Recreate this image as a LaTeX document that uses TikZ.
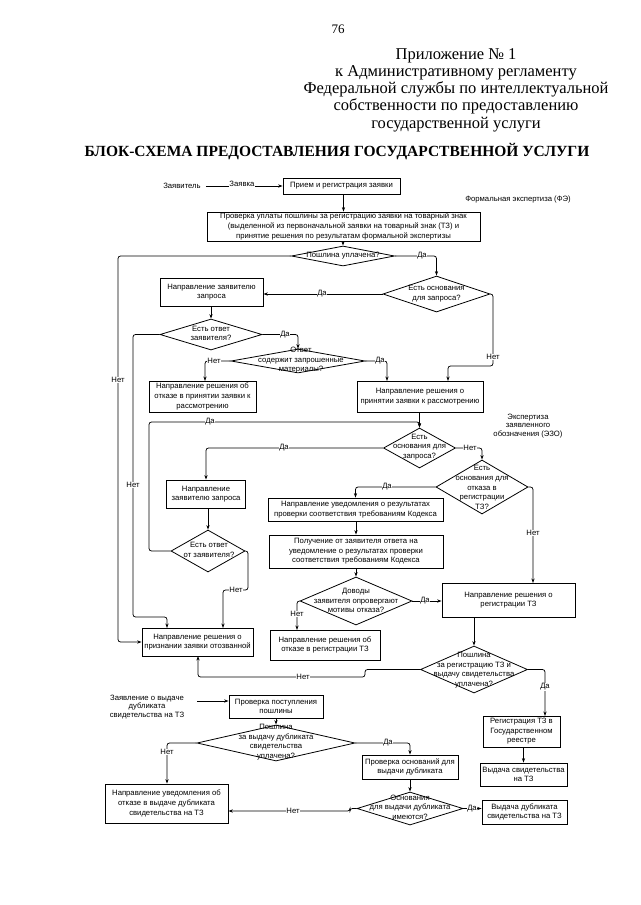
\documentclass[tikz,border=0pt]{standalone}
\usepackage{fontspec}
\setmainfont{Liberation Serif}
\newfontfamily\arialf{Liberation Sans}
\usetikzlibrary{arrows.meta,shapes.geometric}
\newcommand{\fcf}{\arialf\fontsize{7.7}{9.6}\selectfont}
\newcommand{\fcs}{\arialf\fontsize{7.7}{8.8}\selectfont}
\begin{document}
\begin{tikzpicture}[x=1pt,y=-1pt,
  box/.style={draw, line width=0.8pt, inner sep=0pt, align=center, font=\fcf},
  dia/.style={draw, diamond, inner sep=0pt, line width=0.8pt},
  dtext/.style={align=center, font=\fcf, inner sep=0pt},
  ft/.style={align=center, font=\fcf, inner sep=0pt},
  con/.style={line width=0.75pt, rounded corners=2.5pt, -{Stealth[length=4.5pt,width=3.2pt]}},
  lab/.style={fill=white, inner sep=0.6pt, font=\fcf}]
\useasboundingbox (0,0) rectangle (640,905);
\fill[white] (0,0) rectangle (640,905);

% header
\node[font=\fontsize{13}{15}\selectfont, inner sep=0pt] (pg) at (338,29) {76};
\node[align=center, font=\fontsize{16.5}{17.2}\selectfont, inner sep=0pt] (hdr) at (456,90)
 {Приложение № 1\\к Административному регламенту\\Федеральной службы по интеллектуальной\\собственности по предоставлению\\государственной услуги};
\node[font=\bfseries\fontsize{15.5}{18}\selectfont, inner sep=0pt] (ttl) at (337,152)
 {БЛОК-СХЕМА ПРЕДОСТАВЛЕНИЯ ГОСУДАРСТВЕННОЙ УСЛУГИ};

% free texts
\node[ft] (zv) at (182,186) {Заявитель};
\node[ft] (fe) at (518,200) {Формальная экспертиза (ФЭ)};
\node[ft, font=\fcs] (ezo) at (528,426) {Экспертиза\\заявленного\\обозначения (ЭЗО)};
\node[ft, font=\fcs] (zd) at (147,707) {Заявление о выдаче\\дубликата\\свидетельства на ТЗ};
\coordinate (za) at (197,701);

% boxes
\node[box, minimum width=117, minimum height=16] (b1) at (341.5,186) {Прием  и регистрация заявки};
\node[box, minimum width=273, minimum height=29] (b2) at (343.5,226.5) {Проверка уплаты пошлины за регистрацию заявки на товарный знак\\(выделенной из первоначальной заявки на товарный знак (ТЗ) и\\принятие решения по результатам формальной экспертизы};
\node[box, minimum width=103, minimum height=28] (b3) at (211.5,292) {Направление заявителю\\запроса};
\node[box, minimum width=107, minimum height=31] (b4) at (202.5,396.5) {Направление решения об\\отказе в принятии заявки к\\рассмотрению};
\node[box, minimum width=126, minimum height=31] (b5) at (420,396.5) {Направление решения о\\принятии заявки к рассмотрению};
\node[box, minimum width=79, minimum height=28] (b6) at (206,494) {Направление\\заявителю запроса};
\node[box, minimum width=175, minimum height=23] (b7) at (355.5,509.5) {Направление уведомления о результатах\\проверки соответствия требованиям Кодекса};
\node[box, minimum width=174, minimum height=33] (b8) at (356,551.5) {Получение от заявителя  ответа на\\уведомление о результатах проверки\\соответствия требованиям Кодекса};
\node[box, minimum width=110, minimum height=30] (b9) at (325,645) {Направление решения об\\отказе в регистрации ТЗ};
\node[box, minimum width=133, minimum height=34] (b10) at (508.5,600) {Направление решения о\\регистрации ТЗ};
\node[box, minimum width=111, minimum height=28] (b11) at (197.5,642) {Направление решения о\\признании заявки отозванной};
\node[box, minimum width=77, minimum height=31] (b12) at (521.5,731.5) {Регистрация ТЗ в\\Государственном\\реестре};
\node[box, minimum width=87, minimum height=23] (b13) at (523.5,774.5) {Выдача свидетельства\\на ТЗ};
\node[box, minimum width=94, minimum height=23] (b14) at (276,706.5) {Проверка поступления\\пошлины};
\node[box, minimum width=96, minimum height=24] (b15) at (410,767) {Проверка оснований для\\выдачи дубликата};
\node[box, minimum width=85, minimum height=24] (b16) at (524.5,812) {Выдача дубликата\\свидетельства на ТЗ};
\node[box, minimum width=123, minimum height=39] (b17) at (166.5,803.5) {Направление уведомления об\\отказе в выдаче дубликата\\свидетельства на ТЗ};

% diamonds
\node[dia, minimum width=103, minimum height=20] (d1) at (343,256) {};
\node[dtext] (d1t) at (343,256) {Пошлина уплачена?};
\node[dia, minimum width=107, minimum height=36] (d2) at (436.5,294) {};
\node[dtext] (d2t) at (436.5,293.5) {Есть основания\\для запроса?};
\node[dia, minimum width=102, minimum height=31] (d3) at (211,334.5) {};
\node[dtext] (d3t) at (211,333.5) {Есть ответ\\заявителя?};
\node[dia, minimum width=134, minimum height=24] (d4) at (298,361) {};
\node[dtext] (d4t) at (301,360.5) {Ответ\\содержит  запрошенные\\материалы?};
\node[dia, minimum width=72, minimum height=40] (d5) at (419.5,448) {};
\node[dtext] (d5t) at (419.5,447) {Есть\\основания для\\запроса?};
\node[dia, minimum width=92, minimum height=54] (d6) at (482,487) {};
\node[dtext] (d6t) at (482,487.5) {Есть\\основания для\\отказа в\\регистрации\\ТЗ?};
\node[dia, minimum width=74, minimum height=42] (d7) at (208,551) {};
\node[dtext] (d7t) at (209,550) {Есть ответ\\от заявителя?};
\node[dia, minimum width=112, minimum height=48] (d8) at (356,601) {};
\node[dtext] (d8t) at (356,600.5) {Доводы\\заявителя опровергают\\мотивы отказа?};
\node[dia, minimum width=107, minimum height=47] (d9) at (474,669.5) {};
\node[dtext] (d9t) at (474,670) {Пошлина\\за регистрацию ТЗ и\\выдачу свидетельства\\уплачена?};
\node[dia, minimum width=158, minimum height=36] (d10) at (276,743) {};
\node[dtext] (d10t) at (276,742) {Пошлина\\за выдачу дубликата\\свидетельства\\уплачена?};
\node[dia, minimum width=106, minimum height=33] (d11) at (410,808.5) {};
\node[dtext] (d11t) at (410,807) {Основания\\для выдачи дубликата\\имеются?};

% connectors
\draw[con, shorten <=5pt] (zv.east) -- (zv.east -| b1.west);
\draw[con] (b1.south -| b2.north) -- (b2.north);
\draw[con] (b2.south -| d1.north) -- (d1.north);
\draw[con] (d1.east) -| (d2.north);
\draw[con] (d1.west) -- (118,256) -- (118,642) -- (b11.west);
\draw[con] (d2.west) -- (d2.west -| b3.east);
\draw[con] (d2.east) -- (493,294) -- (493,366) -- (448,366) -- (448,381);
\draw[con] (b3.south -| d3.north) -- (d3.north);
\draw[con] (d3.east) -| (d4.north);
\draw[con] (d3.west) -- (133,334.5) -- (133,617) -- (167,617) -- (167,628);
\draw[con] (d4.west) -- (205,361) -- (205,381);
\draw[con] (d4.east) -- (387,361) -- (387,381);
\draw[con] (b5.south -| d5.north) -- (d5.north);
\draw[con] (d7.west) -- (149,551) -- (149,422) -- (419.5,422) -- (d5.north);
\draw[con] (d5.west) -| (b6.north);
\draw[con] (d5.east) -| (d6.north);
\draw[con] (d6.west) -| (b7.north);
\draw[con] (d6.east) -- (533,487) -- (533,583);
\draw[con] (b6.south -| d7.north) -- (d7.north);
\draw[con] (d7.east) -- (248,551) -- (248,590) -- (223,590) -- (223,628);
\draw[con] (b7.south -| b8.north) -- (b8.north);
\draw[con] (b8.south -| d8.north) -- (d8.north);
\draw[con] (d8.west) -- (297,601) -- (297,630);
\draw[con] (d8.east) -- (d8.east -| b10.west);
\draw[con] (b10.south -| d9.north) -- (d9.north);
\draw[con] (d9.west) -- (365,669.5) -- (365,677) -- (198,677) -- (198,656);
\draw[con] (d9.east) -- (545,669.5) -- (545,716);
\draw[con] (b12.south -| b13.north) -- (b13.north);
\draw[con] (za) -- (za -| b14.west);
\draw[con] (b14.south -| d10.north) -- (d10.north);
\draw[con] (d10.west) -| (b17.north -| 167,0);
\draw[con] (d10.east) -| (b15.north);
\draw[con] (b15.south -| d11.north) -- (d11.north);
\draw[con] (d11.west) -- (350,808.5) -- (350,811) -- (b17.east |- 0,811);
\draw[con] (d11.east) -- (d11.east -| b16.west);

% labels
\node[lab] (l0) at (242,184) {Заявка};
\node[lab] (l1) at (422,256) {Да};
\node[lab] (l2) at (118,380) {Нет};
\node[lab] (l3) at (322,294) {Да};
\node[lab] (l4) at (493,357) {Нет};
\node[lab] (l5) at (285,334.5) {Да};
\node[lab] (l6) at (133,485) {Нет};
\node[lab] (l7) at (214,361) {Нет};
\node[lab] (l8) at (380,361) {Да};
\node[lab] (l9) at (210,422) {Да};
\node[lab] (l10) at (284,448) {Да};
\node[lab] (l11) at (470,448) {Нет};
\node[lab] (l12) at (387,487) {Да};
\node[lab] (l13) at (533,533) {Нет};
\node[lab] (l14) at (236,590) {Нет};
\node[lab] (l15) at (297,614) {Нет};
\node[lab] (l16) at (425,601) {Да};
\node[lab] (l17) at (303,677) {Нет};
\node[lab] (l18) at (545,687) {Да};
\node[lab] (l19) at (167,752) {Нет};
\node[lab] (l20) at (388,743) {Да};
\node[lab] (l21) at (293,811) {Нет};
\node[lab] (l22) at (472,808.5) {Да};
\end{tikzpicture}
\end{document}
